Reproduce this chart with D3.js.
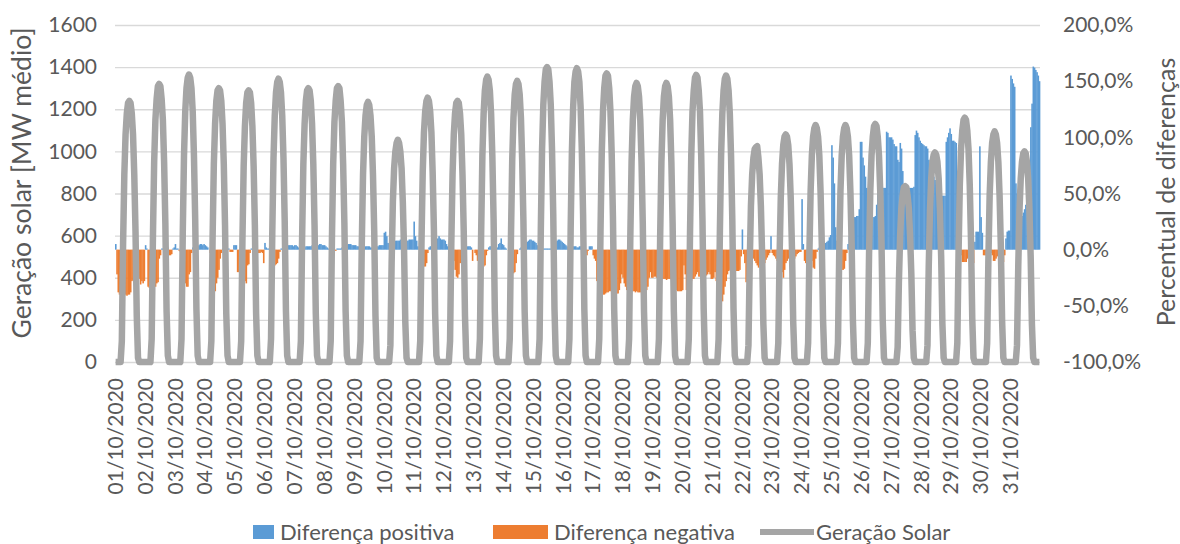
<!DOCTYPE html>
<html>
<head>
<meta charset="utf-8">
<script src="https://cdn.jsdelivr.net/npm/d3@7"></script>
<style>
  body { margin: 0; background: #fff; }
  text { font-family: Lato, "Open Sans", sans-serif; fill: #595959; }
</style>
</head>
<body>
<svg id="chart" width="1180" height="544"></svg>
<script>
// Day labels on the category axis (one tick every 24 hourly categories)
const days = ["01/10/2020","02/10/2020","03/10/2020","04/10/2020","05/10/2020","06/10/2020","07/10/2020","08/10/2020","09/10/2020","10/10/2020","11/10/2020","12/10/2020","13/10/2020","14/10/2020","15/10/2020","16/10/2020","17/10/2020","18/10/2020","19/10/2020","20/10/2020","21/10/2020","22/10/2020","23/10/2020","24/10/2020","25/10/2020","26/10/2020","27/10/2020","28/10/2020","29/10/2020","30/10/2020","31/10/2020"];

// Hourly solar generation [MW médio], one row per day, hours 0..23
const solarMW = [
  [0,0,0,0,0,100,560,890,1080,1180,1230,1240,1230,1180,1080,890,620,220,20,0,0,0,0,0],
  [0,0,0,0,0,110,590,950,1150,1250,1310,1320,1310,1250,1150,950,660,240,30,0,0,0,0,0],
  [0,0,0,0,0,110,610,980,1190,1300,1350,1365,1350,1300,1190,980,680,250,30,0,0,0,0,0],
  [0,0,0,0,0,100,590,940,1130,1240,1290,1300,1290,1240,1130,940,650,230,30,0,0,0,0,0],
  [0,0,0,0,0,100,580,930,1120,1230,1280,1290,1280,1230,1120,930,650,230,30,0,0,0,0,0],
  [0,0,0,0,0,110,610,970,1170,1280,1330,1345,1330,1280,1170,970,670,240,30,0,0,0,0,0],
  [0,0,0,0,0,100,590,940,1130,1240,1290,1300,1290,1240,1130,940,650,230,30,0,0,0,0,0],
  [0,0,0,0,0,100,590,940,1140,1240,1300,1310,1300,1240,1140,940,660,240,30,0,0,0,0,0],
  [0,0,0,0,0,100,560,890,1070,1170,1220,1235,1220,1170,1070,890,620,220,20,0,0,0,0,0],
  [0,0,0,0,0,80,470,760,920,1000,1040,1055,1040,1000,920,760,530,190,20,0,0,0,0,0],
  [0,0,0,0,0,100,560,900,1090,1190,1240,1255,1240,1190,1090,900,630,230,30,0,0,0,0,0],
  [0,0,0,0,0,100,560,890,1080,1180,1230,1240,1230,1180,1080,890,620,220,20,0,0,0,0,0],
  [0,0,0,0,0,110,610,980,1180,1290,1340,1355,1340,1290,1180,980,680,240,30,0,0,0,0,0],
  [0,0,0,0,0,110,600,960,1160,1270,1320,1335,1320,1270,1160,960,670,240,30,0,0,0,0,0],
  [0,0,0,0,0,110,630,1010,1220,1330,1390,1400,1390,1330,1220,1010,700,250,30,0,0,0,0,0],
  [0,0,0,0,0,110,630,1000,1210,1330,1380,1395,1380,1330,1210,1000,700,250,30,0,0,0,0,0],
  [0,0,0,0,0,110,620,990,1190,1300,1360,1370,1360,1300,1190,990,690,250,30,0,0,0,0,0],
  [0,0,0,0,0,110,600,950,1150,1260,1310,1325,1310,1260,1150,950,660,240,30,0,0,0,0,0],
  [0,0,0,0,0,110,600,950,1150,1260,1310,1325,1310,1260,1150,950,660,240,30,0,0,0,0,0],
  [0,0,0,0,0,110,610,980,1190,1290,1350,1363,1350,1290,1190,980,680,250,30,0,0,0,0,0],
  [0,0,0,0,0,110,610,980,1180,1290,1345,1360,1345,1290,1180,980,680,250,30,0,0,0,0,0],
  [0,0,0,0,0,80,460,740,890,970,1010,1020,1025,970,890,740,510,180,20,0,0,0,0,0],
  [0,0,0,0,0,90,490,780,940,1030,1070,1080,1070,1030,940,780,540,190,20,0,0,0,0,0],
  [0,0,0,0,0,90,510,810,980,1070,1110,1125,1110,1070,980,810,560,200,20,0,0,0,0,0],
  [0,0,0,0,0,90,510,810,980,1070,1110,1125,1110,1070,980,810,560,200,20,0,0,0,0,0],
  [0,0,0,0,0,90,510,810,980,1070,1120,1130,1120,1070,980,810,570,200,20,0,0,0,0,0],
  [0,0,0,0,0,70,380,600,730,790,830,835,830,790,730,600,420,150,20,0,0,0,0,0],
  [0,0,0,0,0,80,450,720,870,950,985,995,985,950,870,720,500,180,20,0,0,0,0,0],
  [0,0,0,0,0,90,520,840,1010,1100,1150,1160,1150,1100,1010,840,580,210,20,0,0,0,0,0],
  [0,0,0,0,0,90,490,790,950,1040,1080,1095,1080,1040,950,790,550,200,20,0,0,0,0,0],
  [0,0,0,0,0,80,450,720,870,950,990,1000,990,950,870,720,500,180,20,0,0,0,0,0]
];

// Hourly percentage difference, one row per day, hours 0..23
const diffPct = [
  [5,-22,-38,-40,-40,-40,-41,-41,-40,-41,-40,-40,-38,-28,-27,-27,-26,-27,-27,-26,-31,-28,-30,-28],
  [4,1,-33,-34,-34,-33,-33,-32,-33,-30,-29,-8,-5,1,1,1,1,1,2,-5,-5,-4,1,2],
  [5,1,1,-1,-2,-5,-15,-25,-30,-33,-33,-22,-20,-3,2,2,1,2,3,4,5,5,4,5],
  [4,3,2,0,-3,-10,-20,-37,-37,-30,-25,-18,-8,-3,1,1,1,1,1,1,-2,-2,-2,4],
  [4,4,-20,-20,-10,-5,-10,-20,-28,-30,-14,-13,-3,1,1,0,-1,-2,-3,-3,-3,-2,-3,-12],
  [6,2,1,1,0,-1,-3,-8,-14,-13,-12,-8,-2,1,1,1,1,2,3,4,4,4,4,3],
  [4,4,3,2,1,1,1,1,2,3,3,3,3,3,4,4,4,4,4,4,5,5,4,4],
  [4,3,2,1,1,1,0,0,-1,-1,1,1,1,1,2,3,3,4,4,5,5,5,4,4],
  [4,4,3,3,2,2,2,2,2,3,3,3,3,2,2,2,2,2,3,3,4,4,4,4],
  [15,16,12,6,5,5,5,5,6,8,8,8,8,9,8,8,8,8,8,8,9,9,9,9],
  [25,12,8,3,0,-5,-8,-10,-15,-15,-12,-3,2,3,3,3,3,7,9,10,12,10,9,9],
  [9,8,5,3,1,0,-2,-5,-10,-18,-24,-25,-22,-12,0,1,1,1,2,3,3,3,2,-10],
  [0,-3,-5,-10,-15,-15,-15,-15,-15,-14,-5,-1,2,3,3,2,2,3,2,2,5,6,10,5],
  [4,2,1,0,-1,-3,-8,-20,-21,-20,-12,-4,0,1,2,2,3,4,6,7,8,9,9,8],
  [8,7,6,4,2,1,0,0,1,1,1,1,1,1,1,2,3,5,7,8,9,9,8,7],
  [6,5,4,3,2,1,1,3,3,3,3,2,2,3,3,3,2,1,-3,-5,-1,3,3,3],
  [-5,-8,-10,-28,-35,-40,-40,-40,-40,-40,-39,-38,-38,-37,-37,-37,-37,-38,-39,-39,-39,-36,-30,-22],
  [-25,-30,-33,-36,-38,-38,-38,-37,-37,-37,-38,-37,-38,-38,-38,-39,-40,-40,-40,-36,-33,-25,-20,-25],
  [-25,-24,-24,-25,-26,-26,-26,-25,-26,-26,-26,-27,-26,-26,-26,-27,-28,-30,-34,-36,-37,-37,-37,-37],
  [-36,-14,-22,-36,-36,-33,-30,-28,-26,-26,-24,-22,-20,-24,-24,-25,-24,-24,-25,-23,-22,-20,-22,-26],
  [-26,-25,-20,-28,-30,-32,-38,-44,-46,-40,-33,-28,-22,-19,-18,-18,-18,-18,-18,-19,-19,-19,-18,-6],
  [18,-4,-12,-29,-25,-18,-12,-8,-6,-8,-10,-12,-14,-16,-14,-10,-10,-12,-12,-9,-7,-5,-3,12],
  [-3,-5,-6,-8,-10,-12,-14,-16,-20,-25,-18,-12,-10,-8,-7,-8,-10,-10,-8,-6,-4,-3,-2,-2],
  [45,5,-10,-12,-14,-12,-10,-8,-10,-16,-17,-8,-2,1,2,3,4,5,6,6,7,8,11,13],
  [93,82,59,20,8,3,-5,-10,-18,-18,-17,-10,-3,5,12,20,29,29,29,29,30,30,36,96],
  [96,82,75,65,55,47,40,35,30,29,29,30,40,50,56,55,55,55,55,55,105,104,100,100],
  [100,98,94,92,92,80,78,95,90,70,53,53,53,54,55,55,55,55,56,102,106,104,100,97],
  [95,94,93,92,92,90,80,72,70,66,65,62,58,55,50,48,48,48,48,48,96,100,104,108],
  [103,97,97,96,95,60,20,5,-5,-11,-11,-11,-11,-8,-6,-5,-5,-12,-12,7,16,16,16,92],
  [29,15,-5,-5,-5,-5,-4,-3,-3,-5,-10,-10,-8,-6,-5,-5,-5,-11,-11,-5,10,16,17,17],
  [155,152,148,145,59,50,45,40,29,30,33,36,40,44,47,47,109,130,163,162,160,158,155,150]
];

const leftTicks = [0, 200, 400, 600, 800, 1000, 1200, 1400, 1600];
const rightTicks = [-100, -50, 0, 50, 100, 150, 200];

const seriesNames = ["Diferença positiva", "Diferença negativa", "Geração Solar"];
const axisTitles = { left: "Geração solar [MW médio]", right: "Percentual de diferenças" };

const colors = { pos: "#5b9bd5", neg: "#ed7d31", line: "#a5a5a5", grid: "#d9d9d9" };

// ---- flatten to one record per hour ----
const hourly = [];
solarMW.forEach((row, d) => row.forEach((mw, h) => {
  hourly.push({ i: d * 24 + h, mw: mw, pct: diffPct[d][h] });
}));

const svg = d3.select("#chart");
const plot = { left: 115, right: 1040, top: 25, bottom: 362 };

const x = d3.scaleBand().domain(hourly.map(d => d.i)).range([plot.left, plot.right]).padding(0);
const yL = d3.scaleLinear().domain([0, 1600]).range([plot.bottom, plot.top]);
const yR = d3.scaleLinear().domain([-100, 200]).range([plot.bottom, plot.top]);
const bw = x.bandwidth();

// gridlines
svg.append("g").selectAll("line").data(leftTicks).join("line")
  .attr("x1", plot.left).attr("x2", plot.right)
  .attr("y1", d => yL(d) + 0.5).attr("y2", d => yL(d) + 0.5)
  .attr("stroke", colors.grid).attr("stroke-width", 1.3);

// difference bars (right axis)
svg.append("g").selectAll("rect").data(hourly.filter(d => d.pct !== 0)).join("rect")
  .attr("x", d => x(d.i))
  .attr("width", bw + 0.35)
  .attr("y", d => Math.min(yR(d.pct), yR(0)))
  .attr("height", d => Math.abs(yR(d.pct) - yR(0)))
  .attr("fill", d => d.pct > 0 ? colors.pos : colors.neg);

// solar generation line (left axis)
const line = d3.line().x(d => x(d.i) + bw / 2).y(d => yL(d.mw));
svg.append("path").datum(hourly)
  .attr("d", line)
  .attr("fill", "none")
  .attr("stroke", colors.line)
  .attr("stroke-width", 6.5)
  .attr("stroke-linejoin", "round");

// left axis
const gL = svg.append("g").attr("transform", `translate(${plot.left},0)`)
  .call(d3.axisLeft(yL).tickValues(leftTicks).tickSize(0).tickPadding(18).tickFormat(d3.format("d")));
gL.select(".domain").remove();
gL.selectAll("text").style("font-size", "21px").attr("fill", "#595959");

// right axis
const pctFmt = d => (d < 0 ? "-" : "") + Math.abs(d).toFixed(1).replace(".", ",") + "%";
const gR = svg.append("g").attr("transform", `translate(${plot.right},0)`)
  .call(d3.axisRight(yR).tickValues(rightTicks).tickSize(0).tickPadding(23).tickFormat(pctFmt));
gR.select(".domain").remove();
gR.selectAll("text").style("font-size", "21px").attr("fill", "#595959");

// category axis with one label per day
const gX = svg.append("g").attr("transform", `translate(0,${plot.bottom})`)
  .call(d3.axisBottom(x).tickValues(days.map((_, d) => d * 24)).tickSize(0)
    .tickFormat(i => days[i / 24]));
gX.select(".domain").remove();
gX.selectAll("text")
  .style("font-size", "21px")
  .attr("fill", "#595959")
  .attr("text-anchor", "end")
  .attr("transform", "rotate(-90)")
  .attr("x", -16).attr("y", 0).attr("dy", "0.35em");

// axis titles
svg.append("text").attr("transform", "translate(31,183) rotate(-90)")
  .attr("text-anchor", "middle").style("font-size", "26.5px").text(axisTitles.left);
svg.append("text").attr("transform", "translate(1175,192) rotate(-90)")
  .attr("text-anchor", "middle").style("font-size", "25px").text(axisTitles.right);

// legend
const lg = svg.append("g").style("font-size", "22px");
lg.append("rect").attr("x", 253).attr("y", 525).attr("width", 21).attr("height", 14).attr("fill", colors.pos);
lg.append("text").attr("x", 280).attr("y", 540).text(seriesNames[0]);
lg.append("rect").attr("x", 493).attr("y", 525).attr("width", 55).attr("height", 14).attr("fill", colors.neg);
lg.append("text").attr("x", 554).attr("y", 540).text(seriesNames[1]);
lg.append("line").attr("x1", 760).attr("x2", 814).attr("y1", 532).attr("y2", 532)
  .attr("stroke", colors.line).attr("stroke-width", 6);
lg.append("text").attr("x", 816).attr("y", 540).text(seriesNames[2]);
</script>
</body>
</html>
